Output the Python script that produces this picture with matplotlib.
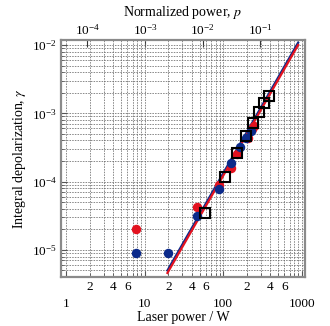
import numpy as np
import matplotlib
matplotlib.use("Agg")
import matplotlib.pyplot as plt
from matplotlib.ticker import LogLocator, FixedLocator, FixedFormatter, NullLocator, LogFormatterMathtext

plt.rcParams['font.family'] = ['Liberation Serif', 'DejaVu Serif']
plt.rcParams['mathtext.fontset'] = 'stix'

# === Daten ===
# Laserleistung [W] und integrale Depolarisation
rot_P = [7.7, 46, 89, 125, 150, 205, 235, 250]
rot_g = [2.0e-5, 4.3e-5, 9.0e-5, 1.6e-4, 2.5e-4, 4.3e-4, 5.8e-4, 6.5e-4]
blau_P = [7.7, 19.7, 46, 89, 125, 165, 195, 225]
blau_g = [9.0e-6, 9.0e-6, 3.1e-5, 7.8e-5, 1.9e-4, 3.2e-4, 4.3e-4, 5.5e-4]
quad_P = [59, 106, 150, 197, 240, 290, 335, 378]
quad_g = [3.5e-5, 1.18e-4, 2.6e-4, 4.6e-4, 7.1e-4, 1.03e-3, 1.4e-3, 1.78e-3]

# Fit-Geraden (Endpunkte)
fit_P = [19.5, 900]
fit_rot = [4.6e-6, 1.0e-2]
fit_blau = [5.0e-6, 1.08e-2]

# Umrechnung Leistung -> normierte Leistung p (log p = a + b log P)
p_a = -4.366
p_b = 1.361

rot = '#e3121f'
blau = '#0b2a8a'

fig = plt.figure(figsize=(3.30, 3.26), dpi=100)
ax = fig.add_axes([0.185, 0.150, 0.739, 0.727])

ax.plot(fit_P, fit_blau, color=blau, lw=1.6, zorder=3)
ax.plot(fit_P, fit_rot, color=rot, lw=1.6, zorder=3)
ax.plot(rot_P, rot_g, 'o', color=rot, ms=6.8, mec='none', zorder=4)
ax.plot(blau_P, blau_g, 'o', color=blau, ms=6.8, mec='none', zorder=4)
ax.plot(quad_P, quad_g, 's', mfc='none', mec='black', mew=1.5, ms=7, zorder=5)

ax.set_xscale('log')
ax.set_yscale('log')
ax.set_xlim(0.86, 1100)
ax.set_ylim(4.0e-6, 1.18e-2)

# --- Achsen ---
ax.xaxis.set_major_locator(FixedLocator([1, 10, 100, 1000]))
ax.xaxis.set_major_formatter(FixedFormatter(['1', '10', '100', '1000']))
minor_pos = [m * 10 ** k for k in range(0, 3) for m in range(2, 10)]
minor_lab = [str(m) if m in (2, 4, 6) else '' for k in range(0, 3) for m in range(2, 10)]
ax.xaxis.set_minor_locator(FixedLocator(minor_pos))
ax.xaxis.set_minor_formatter(FixedFormatter(minor_lab))

ax.yaxis.set_major_locator(LogLocator(base=10, numticks=10))
ax.yaxis.set_major_formatter(LogFormatterMathtext())
ax.yaxis.set_minor_locator(LogLocator(base=10, subs=np.arange(2, 10), numticks=20))

ax.tick_params(which='both', direction='in', labelsize=9.5, color='#555555')
ax.tick_params(axis='x', which='major', pad=15, length=4)
ax.tick_params(axis='x', which='minor', pad=3, length=3)
ax.tick_params(axis='y', which='major', length=4, pad=3)
ax.tick_params(axis='y', which='minor', length=2)

ax.grid(True, which='both', linestyle=(0, (2, 1.5)), color='#6a6a6a', lw=0.55)
ax.set_axisbelow(True)

for s in ax.spines.values():
    s.set_color('#8a8a8a')
    s.set_linewidth(1.6)

ax.set_xlabel('Laser power / W', fontsize=10, labelpad=1)
ax.set_ylabel(r'Integral depolarization, $\gamma$', fontsize=10, labelpad=3)

# --- obere Achse: normierte Leistung ---
def vor(P):
    P = np.clip(P, 1e-12, None)
    return 10 ** (p_a + p_b * np.log10(P))

def rueck(p):
    p = np.clip(p, 1e-30, None)
    return 10 ** ((np.log10(p) - p_a) / p_b)

top = ax.secondary_xaxis('top', functions=(vor, rueck))
top.set_xscale('log')
top.xaxis.set_major_locator(FixedLocator([1e-4, 1e-3, 1e-2, 1e-1]))
top.xaxis.set_major_formatter(LogFormatterMathtext())
top.xaxis.set_minor_locator(NullLocator())
top.tick_params(direction='in', length=5, labelsize=9.5, pad=2, color='#333333')
top.spines['top'].set_visible(False)
top.set_xlabel(r'Normalized power, $p$', fontsize=10, labelpad=5)

fig.savefig('out.png', dpi=100)
